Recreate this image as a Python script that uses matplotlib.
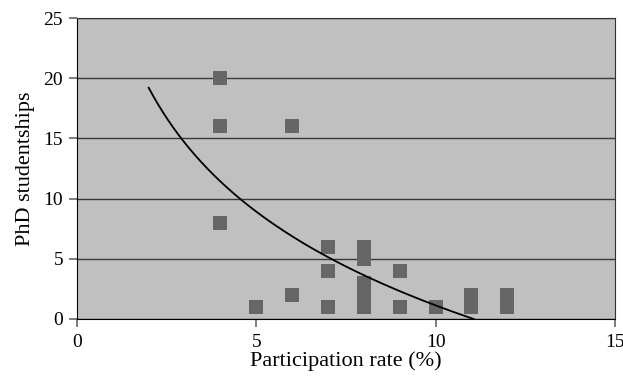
import matplotlib
matplotlib.use("Agg")
import matplotlib.pyplot as plt
import numpy as np

# participation rate (%) and PhD studentships per department
rate = [4, 4, 4, 6, 5, 6, 7, 7, 7, 8, 8, 8, 8, 8, 9, 9, 10, 11, 11, 12, 12]
phd = [20, 16, 8, 16, 1, 2, 6, 4, 1, 6, 5, 3, 2, 1, 4, 1, 1, 2, 1, 2, 1]

# logarithmic trendline y = a*ln(x) + b
trend_a = -11.23
trend_b = 26.99
trend_start = 2.0

plt.rcParams['font.family'] = ['Liberation Serif', 'DejaVu Serif']

fig = plt.figure(figsize=(6.23, 3.76), dpi=100)
ax = fig.add_axes([0.1236, 0.1516, 0.8634, 0.8004])
ax.set_facecolor('#c0c0c0')

ax.scatter(rate, phd, marker='s', s=90, color='#666666', linewidths=0, zorder=3)

x_end = np.exp(-trend_b / trend_a)
xs = np.linspace(trend_start, x_end, 200)
ax.plot(xs, trend_a * np.log(xs) + trend_b, color='black', lw=1.3, zorder=4)

ax.set_xlim(0, 15)
ax.set_ylim(0, 25)
ax.set_xticks([0, 5, 10, 15])
ax.set_yticks([0, 5, 10, 15, 20, 25])
ax.yaxis.grid(True, color='#3a3a3a', lw=1)
ax.set_axisbelow(True)
for side in ['top', 'right']:
    ax.spines[side].set_color('#333333')
ax.tick_params(labelsize=14, length=6, width=1.2, color='#666666')
ax.tick_params(axis='y', pad=4)
ax.tick_params(axis='x', pad=5)
ax.set_xlabel("Participation rate (%)", fontsize=16, labelpad=0)
ax.set_ylabel("PhD studentships", fontsize=16, labelpad=6)

fig.savefig("out.png", dpi=100)
